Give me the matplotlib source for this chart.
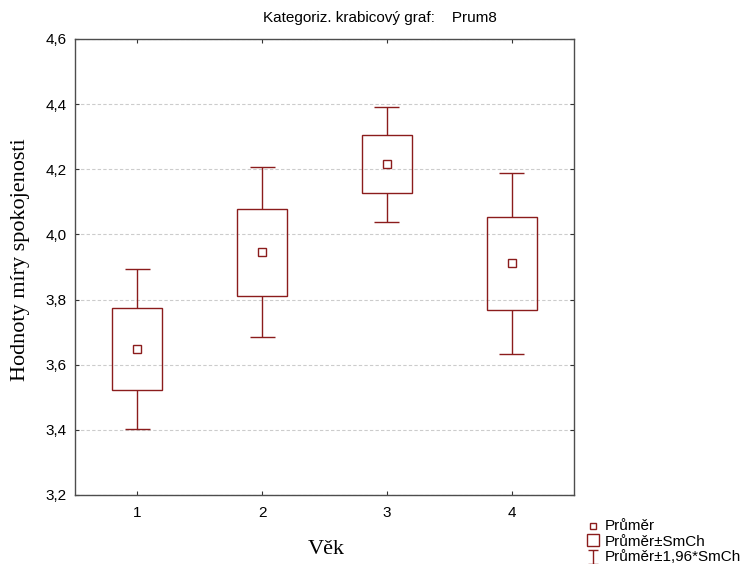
#!/usr/bin/env python3
"""Categorized box plot of Prum8 by age group (mean, ±SE box, ±1.96*SE whiskers)."""

import matplotlib

matplotlib.use("Agg")
import matplotlib.pyplot as plt
from matplotlib.lines import Line2D
from matplotlib.path import Path

groups = [1, 2, 3, 4]
means = [3.648, 3.945, 4.216, 3.911]
se = [0.125, 0.133, 0.090, 0.142]
legend_labels = ["Průměr", "Průměr±SmCh", "Průměr±1,96*SmCh"]

RED = "#8b1c1c"
SANS = "Liberation Sans"
SERIF = "Liberation Serif"
W, H = 747, 564


def main():
    fig = plt.figure(figsize=(W / 100, H / 100), dpi=100)
    ax = fig.add_axes([75 / W, 1 - 495 / H, 499 / W, 456 / H])

    lo = [m - s for m, s in zip(means, se)]
    hi = [m + s for m, s in zip(means, se)]
    wlo = [m - 1.96 * s for m, s in zip(means, se)]
    whi = [m + 1.96 * s for m, s in zip(means, se)]

    # ±SE boxes
    ax.bar(groups, [2 * s for s in se], bottom=lo, width=0.4, fill=False,
           edgecolor=RED, linewidth=1.0, zorder=3)
    # ±1.96*SE whiskers and caps
    ax.vlines(groups, hi, whi, color=RED, linewidth=1.0, zorder=3)
    ax.vlines(groups, wlo, lo, color=RED, linewidth=1.0, zorder=3)
    ax.hlines(whi, [g - 0.1 for g in groups], [g + 0.1 for g in groups],
              color=RED, linewidth=1.0, zorder=3)
    ax.hlines(wlo, [g - 0.1 for g in groups], [g + 0.1 for g in groups],
              color=RED, linewidth=1.0, zorder=3)
    # means
    ax.plot(groups, means, "s", linestyle="none", markersize=5.5,
            markerfacecolor="white", markeredgecolor=RED,
            markeredgewidth=1.0, zorder=4)

    ax.set_xlim(0.5, 4.5)
    ax.set_ylim(3.2, 4.6)
    ax.set_xticks(groups)
    yt = [3.2, 3.4, 3.6, 3.8, 4.0, 4.2, 4.4, 4.6]
    ax.set_yticks(yt)
    ax.set_yticklabels([f"{v:.1f}".replace(".", ",") for v in yt])
    ax.yaxis.grid(True, linestyle=(0, (3, 2)), color="#cccccc", linewidth=0.8)
    ax.set_axisbelow(True)

    ax.tick_params(direction="in", length=3, width=0.8, color="#333333",
                   top=True, right=True, labelsize=11, pad=6)
    ax.tick_params(axis="x", pad=8)
    for lab in ax.get_xticklabels() + ax.get_yticklabels():
        lab.set_family(SANS)
    for sp in ax.spines.values():
        sp.set_color("#4d4d4d")
        sp.set_linewidth(1.0)

    fig.text(380 / W, 1 - 18 / H, "Kategoriz. krabicový graf:    Prum8",
             ha="center", va="center", fontsize=11, family=SANS)
    fig.text(21 / W, 1 - 260 / H, "Hodnoty míry spokojenosti",
             rotation=90, ha="center", va="center", fontsize=16, family=SERIF)
    fig.text(326 / W, 1 - 550 / H, "Věk",
             ha="center", va="center", fontsize=16, family=SERIF)

    # legend below the plot, right side, laid out by hand for tight rows
    ibar = Path([(-0.35, 0.5), (0.35, 0.5), (0, 0.5), (0, -0.5),
                 (-0.35, -0.5), (0.35, -0.5)],
                [Path.MOVETO, Path.LINETO, Path.MOVETO, Path.LINETO,
                 Path.MOVETO, Path.LINETO])
    markers = [("s", 5), ("s", 8.5), (ibar, 9.5)]
    marker_y = [526, 540, 557]
    baseline_y = [530, 545.5, 561]
    for (mk, ms), label, my, ty in zip(markers, legend_labels, marker_y, baseline_y):
        fig.add_artist(Line2D([593 / W], [1 - my / H], transform=fig.transFigure,
                              marker=mk, markersize=ms, linestyle="none",
                              markerfacecolor="white", markeredgecolor=RED,
                              markeredgewidth=1.0))
        fig.text(605 / W, 1 - ty / H, label, ha="left", va="baseline",
                 fontsize=11, family=SANS)

    fig.savefig("out.png", dpi=100)


if __name__ == "__main__":
    main()
